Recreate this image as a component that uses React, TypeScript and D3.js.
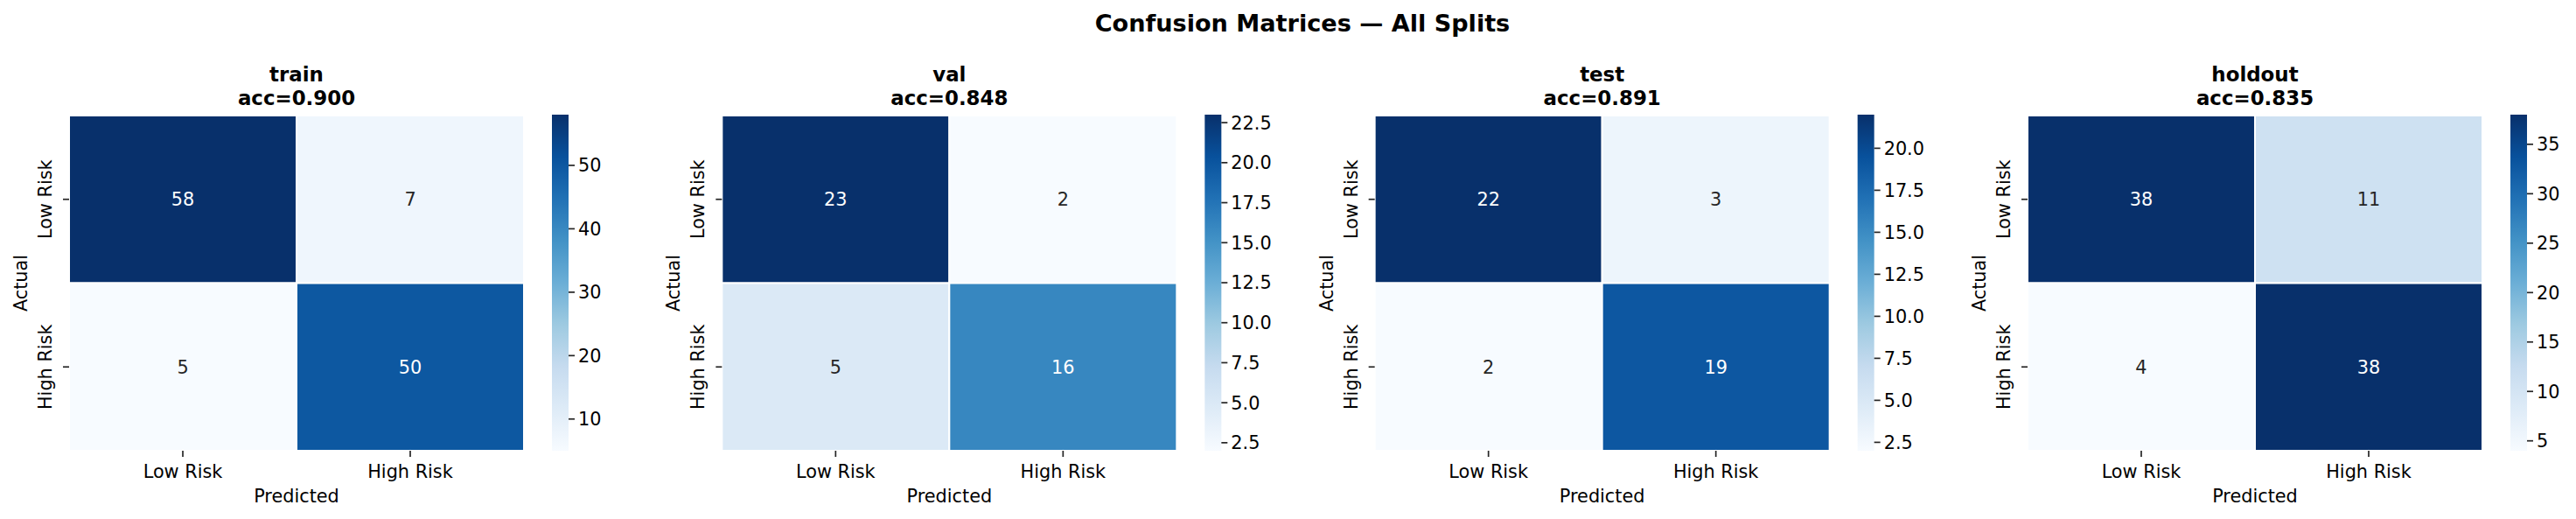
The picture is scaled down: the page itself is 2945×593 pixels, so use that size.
import * as d3 from "d3";

// confusion matrices, rows = actual, cols = predicted
const splits = ["train", "val", "test", "holdout"];
const classLabels = ["Low Risk", "High Risk"];
const trainMatrix = [[58, 7], [5, 50]];
const valMatrix = [[23, 2], [5, 16]];
const testMatrix = [[22, 3], [2, 19]];
const holdoutMatrix = [[38, 11], [4, 38]];
const accuracies = ["0.900", "0.848", "0.891", "0.835"];
const colorbarTicks = [
  [10, 20, 30, 40, 50],
  [2.5, 5, 7.5, 10, 12.5, 15, 17.5, 20, 22.5],
  [2.5, 5, 7.5, 10, 12.5, 15, 17.5, 20],
  [5, 10, 15, 20, 25, 30, 35],
];
const tickDecimals = [0, 1, 1, 0];
// matplotlib "Blues"
const blues = ["#f7fbff", "#deebf7", "#c6dbef", "#9ecae1", "#6baed6", "#4292c6", "#2171b5", "#08519c", "#08306b"];

const matrices = [trainMatrix, valMatrix, testMatrix, holdoutMatrix];

const W = 2945;
const H = 593;
const panelStep = 746.33;
const axLeft = 79;
const axW = 520;
const axTop = 132;
const axBottom = 515;
const cbGap = 32;
const cbW = 19;
const cbTop = 131;
const font = "DejaVu Sans, sans-serif";
const ink = "#262626";

function luminance(c: string) {
  const rgb = d3.rgb(c);
  const lin = [rgb.r, rgb.g, rgb.b].map((v) => {
    const s = v / 255;
    return s <= 0.03928 ? s / 12.92 : Math.pow((s + 0.055) / 1.055, 2.4);
  });
  return 0.2126 * lin[0] + 0.7152 * lin[1] + 0.0722 * lin[2];
}

function Panel({ i }: { i: number }) {
  const m = matrices[i];
  const flat = m.flat();
  const vmin = d3.min(flat) as number;
  const vmax = d3.max(flat) as number;
  const x0 = axLeft + i * panelStep;

  const xScale = d3.scaleBand<string>().domain(classLabels).range([x0, x0 + axW]);
  const yScale = d3.scaleBand<string>().domain(classLabels).range([axTop, axBottom]);
  const color = d3
    .scaleLinear<string>()
    .domain(blues.map((_, k) => vmin + ((vmax - vmin) * k) / (blues.length - 1)))
    .range(blues)
    .interpolate(d3.interpolateRgb)
    .clamp(true);

  const cbX = x0 + axW + cbGap;
  const cbScale = d3.scaleLinear().domain([vmin, vmax]).range([axBottom, cbTop]);
  const cx = x0 + axW / 2;
  const gradId = `cb-grad-${i}`;

  return (
    <g>
      <defs>
        <linearGradient id={gradId} x1="0" y1="1" x2="0" y2="0">
          {blues.map((c, k) => (
            <stop key={k} offset={k / (blues.length - 1)} stopColor={c} />
          ))}
        </linearGradient>
      </defs>

      {/* title */}
      <text x={cx} y={92.5} textAnchor="middle" fontWeight="bold" fontSize={22.9} fill="#000">
        {splits[i]}
      </text>
      <text x={cx} y={119.5} textAnchor="middle" fontWeight="bold" fontSize={22.9} fill="#000">
        {`acc=${accuracies[i]}`}
      </text>

      {/* cells */}
      {m.map((row, r) =>
        row.map((v, c) => {
          const fill = color(v);
          const x = xScale(classLabels[c]) as number;
          const y = yScale(classLabels[r]) as number;
          return (
            <g key={`${r}-${c}`}>
              <rect
                x={x}
                y={y}
                width={xScale.bandwidth()}
                height={yScale.bandwidth()}
                fill={fill}
                stroke="#fff"
                strokeWidth={2}
              />
              <text
                x={x + xScale.bandwidth() / 2}
                y={y + yScale.bandwidth() / 2}
                dy="0.36em"
                textAnchor="middle"
                fontSize={20.8}
                fill={luminance(fill) > 0.408 ? ink : "#fff"}
              >
                {v}
              </text>
            </g>
          );
        })
      )}

      {/* x axis */}
      {classLabels.map((l) => {
        const tx = (xScale(l) as number) + xScale.bandwidth() / 2;
        return (
          <g key={`xt-${l}`}>
            <line x1={tx} x2={tx} y1={axBottom} y2={axBottom + 7} stroke={ink} strokeWidth={1.7} />
            <text x={tx} y={545.5} textAnchor="middle" fontSize={20.8} fill="#000">
              {l}
            </text>
          </g>
        );
      })}
      <text x={cx} y={574} textAnchor="middle" fontSize={20.8} fill="#000">
        Predicted
      </text>

      {/* y axis */}
      {classLabels.map((l) => {
        const ty = (yScale(l) as number) + yScale.bandwidth() / 2;
        return (
          <g key={`yt-${l}`}>
            <line x1={x0 - 7} x2={x0} y1={ty} y2={ty} stroke={ink} strokeWidth={1.7} />
            <text
              transform={`translate(${x0 - 20},${ty}) rotate(-90)`}
              textAnchor="middle"
              fontSize={20.8}
              fill="#000"
            >
              {l}
            </text>
          </g>
        );
      })}
      <text
        transform={`translate(${x0 - 48},${(axTop + axBottom) / 2}) rotate(-90)`}
        textAnchor="middle"
        fontSize={20.8}
        fill="#000"
      >
        Actual
      </text>

      {/* colorbar */}
      <rect x={cbX} y={cbTop} width={cbW} height={axBottom - cbTop} fill={`url(#${gradId})`} />
      {colorbarTicks[i].map((t) => {
        const ty = cbScale(t);
        return (
          <g key={`cb-${t}`}>
            <line x1={cbX + cbW} x2={cbX + cbW + 7} y1={ty} y2={ty} stroke={ink} strokeWidth={1.7} />
            <text x={cbX + cbW + 11} y={ty} dy="0.36em" fontSize={20.8} fill="#000">
              {t.toFixed(tickDecimals[i])}
            </text>
          </g>
        );
      })}
    </g>
  );
}

export default function App() {
  return (
    <svg
      width={W}
      height={H}
      viewBox={`0 0 ${W} ${H}`}
      style={{ position: "absolute", left: 0, top: 0, background: "#fff" }}
      fontFamily={font}
    >
      <rect width={W} height={H} fill="#fff" />
      <text x={1489} y={35.5} textAnchor="middle" fontWeight="bold" fontSize={27.1} fill="#000">
        Confusion Matrices — All Splits
      </text>
      {splits.map((_, i) => (
        <Panel key={i} i={i} />
      ))}
    </svg>
  );
}
